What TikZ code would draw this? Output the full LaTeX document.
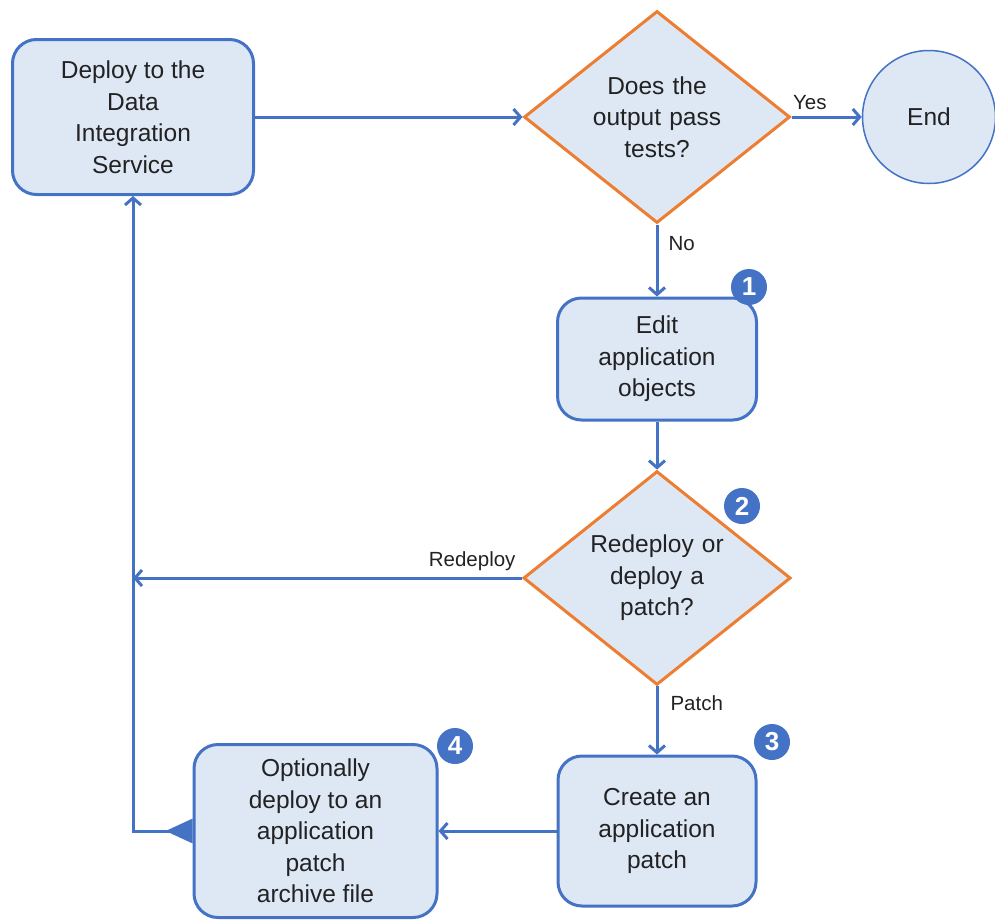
\documentclass[tikz,border=0pt]{standalone}
\usepackage{fontspec}
\setmainfont{Liberation Sans}
\usetikzlibrary{shapes.geometric,arrows.meta}
\definecolor{bluel}{HTML}{4472C4}
\definecolor{fillb}{HTML}{DEE8F5}
\definecolor{orng}{HTML}{ED7D31}
\definecolor{txt}{HTML}{222222}
\tikzset{
  base/.style={draw=bluel, line width=3pt, fill=fillb, text=txt, align=center, font=\fontsize{24.5}{31.5}\selectfont, inner sep=0pt},
  stepbox/.style={base, rounded corners=24pt},
  decision/.style={base, draw=orng, diamond, shape aspect=1.25, text width=160pt},
  endnode/.style={base, circle, line width=1.5pt, minimum size=133pt},
  conn/.style={draw=bluel, line width=3pt, -{Straight Barb[length=7pt,width=16pt]}},
  lbl/.style={font=\fontsize{20.5}{22}\selectfont, text=txt, inner sep=1pt},
  badge/.style={circle, fill=bluel, text=white, inner sep=0pt, minimum size=36pt, font=\fontsize{26}{26}\selectfont\bfseries}
}
\begin{document}
\begin{tikzpicture}[x=1pt,y=-1pt]
\useasboundingbox (0,0) rectangle (995,921);
\node[stepbox, minimum width=241pt, minimum height=155pt] (deploy) at (133,117) {Deploy to the\\Data\\Integration\\Service};
\node[decision, minimum width=266pt, minimum height=212pt] (test) at (657,117) {Does the\\output pass\\tests?};
\node[endnode] (end) at (929,117) {End};
\node[stepbox, minimum width=199pt, minimum height=122pt] (edit) at (657,359) {Edit\\application\\objects};
\node[decision, minimum width=266pt, minimum height=212pt] (redep) at (657,578) {Redeploy or\\deploy a\\patch?};
\node[stepbox, minimum width=198pt, minimum height=150pt] (create) at (657,831) {Create an\\application\\patch};
\node[stepbox, minimum width=243pt, minimum height=173pt] (opt) at (315.5,831) {Optionally\\deploy to an\\application\\patch\\archive file};
\coordinate (join1) at (133,578);
\coordinate (join2) at (133,831);
\node[badge] (b1) at (749,287) {1};
\node[badge] (b2) at (742,506) {2};
\node[badge] (b3) at (772,742) {3};
\node[badge] (b4) at (455,746) {4};
\draw[conn] (deploy.east) -- (test.west);
\draw[conn] (test.east) -- node[lbl, pos=0.26, above=5pt] (yes) {Yes} (end.west);
\draw[conn] (test.south) -- node[lbl, pos=0.27, right=9pt] (no) {No} (edit.north);
\draw[conn] (edit.south) -- (redep.north);
\draw[conn] (redep.west) -- node[lbl, pos=0.01, above=5pt, anchor=south east] (rd) {Redeploy} (join1);
\draw[conn] (redep.south) -- node[lbl, pos=0.25, right=11pt] (pt) {Patch} (create.north);
\draw[conn] (create.west) -- (opt.east);
\draw[draw=bluel, line width=3pt, {Triangle[reversed,length=27pt,width=24pt]}-{Straight Barb[length=7pt,width=16pt]}] (opt.west) -- (join2) -- (deploy.south);
\end{tikzpicture}
\end{document}
